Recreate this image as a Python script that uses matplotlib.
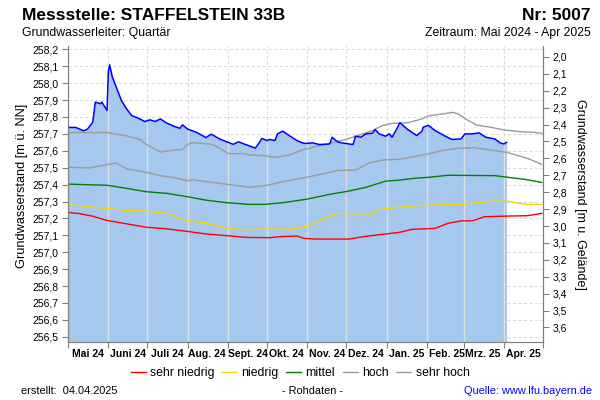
import matplotlib
matplotlib.use("Agg")
import matplotlib.pyplot as plt
import matplotlib.dates as mdates
from matplotlib.ticker import FuncFormatter, FixedLocator, MultipleLocator
import numpy as np
import pandas as pd

plt.rcParams['font.family'] = ['Liberation Sans', 'DejaVu Sans']

# Messwerte (Rohdaten) Grundwasserstand [m ü. NN]
mess_tage = ["2024-05-01", "2024-05-07", "2024-05-13", "2024-05-16", "2024-05-20", "2024-05-22",
             "2024-05-26", "2024-05-27", "2024-05-31", "2024-06-01", "2024-06-02", "2024-06-04",
             "2024-06-07", "2024-06-11", "2024-06-15", "2024-06-19", "2024-06-24", "2024-06-29",
             "2024-07-03", "2024-07-07", "2024-07-11", "2024-07-16", "2024-07-22", "2024-07-26",
             "2024-07-28", "2024-08-01", "2024-08-08", "2024-08-15", "2024-08-19", "2024-08-26",
             "2024-09-05", "2024-09-09", "2024-09-14", "2024-09-22", "2024-09-25", "2024-09-27",
             "2024-10-01", "2024-10-03", "2024-10-07", "2024-10-09", "2024-10-13", "2024-10-16",
             "2024-10-20", "2024-10-24", "2024-10-28", "2024-10-31", "2024-11-05", "2024-11-10",
             "2024-11-18", "2024-11-20", "2024-11-23", "2024-11-25", "2024-12-03", "2024-12-06",
             "2024-12-08", "2024-12-12", "2024-12-16", "2024-12-21", "2024-12-23", "2024-12-26",
             "2024-12-31", "2025-01-03", "2025-01-05", "2025-01-08", "2025-01-11", "2025-01-12",
             "2025-01-17", "2025-01-24", "2025-01-28", "2025-01-29", "2025-02-02", "2025-02-07",
             "2025-02-14", "2025-02-20", "2025-02-27", "2025-03-02", "2025-03-08", "2025-03-13",
             "2025-03-18", "2025-03-25", "2025-03-29", "2025-04-01", "2025-04-03"]
messwerte = [257.738, 257.738, 257.718, 257.728, 257.768, 257.888,
             257.878, 257.888, 257.838, 258.068, 258.108, 258.038,
             257.978, 257.898, 257.848, 257.808, 257.793, 257.773,
             257.783, 257.773, 257.788, 257.763, 257.743, 257.733,
             257.753, 257.728, 257.708, 257.678, 257.698, 257.668,
             257.638, 257.653, 257.638, 257.616, 257.648, 257.673,
             257.660, 257.667, 257.660, 257.700, 257.716, 257.700,
             257.680, 257.660, 257.647, 257.643, 257.647, 257.637,
             257.640, 257.680, 257.660, 257.650, 257.640, 257.637,
             257.686, 257.680, 257.700, 257.704, 257.726, 257.700,
             257.686, 257.700, 257.680, 257.720, 257.765, 257.760,
             257.726, 257.690, 257.716, 257.740, 257.750, 257.720,
             257.690, 257.667, 257.670, 257.700, 257.700, 257.706,
             257.680, 257.670, 257.647, 257.640, 257.650]

# Kennlinien
sehr_hoch_tage = ["2024-05-01", "2024-05-31", "2024-06-15", "2024-06-25", "2024-06-30", "2024-07-11",
                  "2024-07-21", "2024-07-28", "2024-08-01", "2024-08-05", "2024-08-20", "2024-08-28",
                  "2024-09-01", "2024-09-14", "2024-09-17", "2024-09-29", "2024-10-07", "2024-10-18",
                  "2024-10-28", "2024-11-07", "2024-11-18", "2024-12-01", "2024-12-11", "2024-12-21",
                  "2024-12-29", "2025-01-05", "2025-01-17", "2025-01-27", "2025-02-02", "2025-02-12",
                  "2025-02-21", "2025-02-25", "2025-03-03", "2025-03-11", "2025-03-22", "2025-04-01",
                  "2025-04-14", "2025-04-24", "2025-04-30"]
sehr_hoch = [257.708, 257.708, 257.688, 257.668, 257.638, 257.593,
             257.603, 257.608, 257.638, 257.648, 257.638, 257.603,
             257.583, 257.583, 257.575, 257.571, 257.561, 257.575,
             257.605, 257.624, 257.644, 257.668, 257.693, 257.720,
             257.750, 257.762, 257.766, 257.786, 257.806, 257.817,
             257.827, 257.817, 257.786, 257.752, 257.739, 257.723,
             257.713, 257.709, 257.703]

hoch_tage = ["2024-05-01", "2024-05-17", "2024-05-31", "2024-06-07", "2024-06-15", "2024-06-30",
             "2024-07-11", "2024-07-24", "2024-07-31", "2024-08-05", "2024-08-20", "2024-09-04",
             "2024-09-14", "2024-09-17", "2024-09-29", "2024-10-13", "2024-10-31", "2024-11-15",
             "2024-11-24", "2024-12-08", "2024-12-19", "2024-12-29", "2025-01-11", "2025-01-22",
             "2025-02-04", "2025-02-14", "2025-02-25", "2025-03-09", "2025-03-22", "2025-04-04",
             "2025-04-19", "2025-04-30"]
hoch = [257.503, 257.498, 257.518, 257.528, 257.493, 257.473,
        257.453, 257.438, 257.423, 257.428, 257.413, 257.398,
        257.388, 257.384, 257.393, 257.417, 257.443, 257.467,
        257.484, 257.486, 257.530, 257.545, 257.550, 257.565,
        257.585, 257.604, 257.614, 257.618, 257.604, 257.589,
        257.555, 257.520]

mittel_tage = ["2024-05-01", "2024-05-12", "2024-05-31", "2024-06-15", "2024-06-30", "2024-07-16",
               "2024-08-01", "2024-08-15", "2024-08-31", "2024-09-17", "2024-09-29", "2024-10-13",
               "2024-10-31", "2024-11-18", "2024-12-03", "2024-12-16", "2024-12-31", "2025-01-11",
               "2025-01-22", "2025-02-02", "2025-02-17", "2025-03-25", "2025-04-04", "2025-04-17",
               "2025-04-30"]
mittel = [257.403, 257.400, 257.396, 257.378, 257.358, 257.348,
          257.328, 257.308, 257.293, 257.283, 257.283, 257.293,
          257.313, 257.342, 257.362, 257.384, 257.420, 257.427,
          257.437, 257.443, 257.455, 257.453, 257.443, 257.431,
          257.413]

niedrig_tage = ["2024-05-01", "2024-05-10", "2024-05-31", "2024-06-15", "2024-06-30", "2024-07-18",
                "2024-07-26", "2024-08-01", "2024-08-15", "2024-08-31", "2024-09-14", "2024-09-25",
                "2024-10-21", "2024-11-01", "2024-11-10", "2024-11-19", "2024-11-25", "2024-12-21",
                "2024-12-25", "2025-01-03", "2025-01-20", "2025-02-02", "2025-02-27", "2025-03-14",
                "2025-03-25", "2025-04-05", "2025-04-12", "2025-04-19", "2025-04-30"]
niedrig = [257.282, 257.276, 257.258, 257.248, 257.243, 257.228,
           257.198, 257.188, 257.173, 257.143, 257.133, 257.137,
           257.137, 257.155, 257.186, 257.220, 257.230, 257.226,
           257.250, 257.260, 257.273, 257.279, 257.283, 257.295,
           257.303, 257.301, 257.290, 257.283, 257.283]

sehr_niedrig_tage = ["2024-05-01", "2024-05-10", "2024-05-20", "2024-05-31", "2024-06-15", "2024-06-30",
                     "2024-07-16", "2024-08-01", "2024-08-15", "2024-08-31", "2024-09-14", "2024-10-03",
                     "2024-10-11", "2024-10-24", "2024-10-29", "2024-11-07", "2024-12-03", "2024-12-14",
                     "2024-12-29", "2025-01-11", "2025-01-20", "2025-02-07", "2025-02-17", "2025-02-27",
                     "2025-03-08", "2025-03-17", "2025-04-04", "2025-04-19", "2025-04-30"]
sehr_niedrig = [257.236, 257.228, 257.213, 257.188, 257.168, 257.148,
                257.138, 257.123, 257.108, 257.098, 257.088, 257.086,
                257.092, 257.096, 257.082, 257.078, 257.078, 257.092,
                257.106, 257.118, 257.135, 257.141, 257.171, 257.185,
                257.186, 257.210, 257.214, 257.216, 257.230]

monate = ["Mai 24", "Juni 24", "Juli 24", "Aug. 24", "Sept. 24", "Okt. 24",
          "Nov. 24", "Dez. 24", "Jan. 25", "Feb. 25", "Mrz. 25", "Apr. 25"]

gelaende = 260.155  # Geländehöhe [m ü. NN]
y_unten, y_oben = 256.471, 258.2195

komma = FuncFormatter(lambda v, p: f"{v:.1f}".replace(".", ","))

fig = plt.figure(figsize=(6, 4), dpi=100)
ax = fig.add_axes([68 / 600, 1 - 341.7 / 400, 475 / 600, (341.7 - 46) / 400])

t_mess = pd.to_datetime(mess_tage)
start, ende = pd.Timestamp("2024-05-01"), pd.Timestamp("2025-05-01")
monatsanfang = pd.date_range(start, ende, freq="MS")

# Fläche unter den Messwerten
ax.fill_between(t_mess, messwerte, y_unten, color="#a6c8ee", lw=0, zorder=1)

# Monatslinien innerhalb der Fläche hell
x_num = mdates.date2num(t_mess)
for m in monatsanfang:
    mn = mdates.date2num(m)
    if x_num[0] < mn <= x_num[-1]:
        ax.vlines(m, y_unten, np.interp(mn, x_num, messwerte), color="#dedede", lw=1, zorder=2)

ax.plot(pd.to_datetime(sehr_hoch_tage), sehr_hoch, color="#9a9a9a", lw=1, zorder=3, label="sehr hoch")
ax.plot(pd.to_datetime(hoch_tage), hoch, color="#9a9a9a", lw=1, zorder=3, label="hoch")
ax.plot(pd.to_datetime(mittel_tage), mittel, color="#008000", lw=1, zorder=3, label="mittel")
ax.plot(pd.to_datetime(niedrig_tage), niedrig, color="#f5d800", lw=1, zorder=3, label="niedrig")
ax.plot(pd.to_datetime(sehr_niedrig_tage), sehr_niedrig, color="#ff0000", lw=1, zorder=3, label="sehr niedrig")
ax.plot(t_mess, messwerte, color="#0000ff", lw=1.1, zorder=4)

ax.set_xlim(start, ende)
ax.set_ylim(y_unten, y_oben)
ax.yaxis.set_major_locator(MultipleLocator(0.1))
ax.yaxis.set_major_formatter(komma)
ax.set_axisbelow(True)
ax.grid(True, which="major", color="#dcdcdc", ls=(0, (3, 2)), lw=0.8)

ax.xaxis.set_major_locator(FixedLocator(mdates.date2num(monatsanfang)))
ax.xaxis.set_major_formatter(FuncFormatter(lambda v, p: ""))
mitte = [mdates.date2num(m) + 15 for m in monatsanfang[:-1]]
ax.xaxis.set_minor_locator(FixedLocator(mitte))
ax.xaxis.set_minor_formatter(FuncFormatter(lambda v, p: monate[p] if p < len(monate) else ""))
ax.tick_params(axis="x", which="minor", length=0, pad=5, labelsize=7.5)
for lbl in ax.xaxis.get_minorticklabels():
    lbl.set_fontweight("bold")
ax.tick_params(axis="x", which="major", length=4, color="#808080")
ax.tick_params(axis="y", length=4, color="#808080", labelsize=7.5, pad=3)

for s in ["top"]:
    ax.spines[s].set_visible(False)
for s in ["left", "right", "bottom"]:
    ax.spines[s].set_color("#808080")

# rechte Achse: Flurabstand
ax2 = ax.twinx()
ax2.set_ylim(gelaende - y_unten, gelaende - y_oben)
ax2.set_yticks(np.arange(2.0, 3.65, 0.1))
ax2.yaxis.set_major_formatter(komma)
ax2.tick_params(axis="y", length=4, color="#808080", labelsize=7.5, pad=3)
ax2.spines["top"].set_visible(False)
for s in ["left", "right", "bottom"]:
    ax2.spines[s].set_color("#808080")

# Texte
fig.text(22 / 600, 1 - 15 / 400, "Messstelle: STAFFELSTEIN 33B", fontsize=12.5, fontweight="bold", va="center")
fig.text(591 / 600, 1 - 15 / 400, "Nr: 5007", fontsize=12.5, fontweight="bold", va="center", ha="right")
fig.text(22 / 600, 1 - 33 / 400, "Grundwasserleiter: Quartär", fontsize=8.8, va="center")
fig.text(591 / 600, 1 - 33 / 400, "Zeitraum: Mai 2024 - Apr 2025", fontsize=8.8, va="center", ha="right")
fig.text(22 / 600, 1 - 186 / 400, "Grundwasserstand [m ü. NN]", fontsize=9.2, rotation=90, va="center", ha="center")
fig.text(580 / 600, 1 - 194 / 400, "Grundwasserstand [m u. Gelände]", fontsize=9.0, rotation=270, va="center", ha="center")

handles, labels = ax.get_legend_handles_labels()
fig.legend(handles[::-1], labels[::-1], loc="center", bbox_to_anchor=(300 / 600, 1 - 373 / 400), ncol=5,
           frameon=False, fontsize=8.8, handlelength=1.25, handletextpad=0.35, columnspacing=0.6)

fig.text(21 / 600, 1 - 391 / 400, "erstellt:  04.04.2025", fontsize=7.9, va="center")
fig.text(312 / 600, 1 - 391 / 400, "- Rohdaten -", fontsize=7.9, va="center", ha="center")
fig.text(592 / 600, 1 - 391 / 400, "Quelle: www.lfu.bayern.de", fontsize=7.9, va="center", ha="right", color="#0000ff")

fig.savefig("out.png", dpi=100)
